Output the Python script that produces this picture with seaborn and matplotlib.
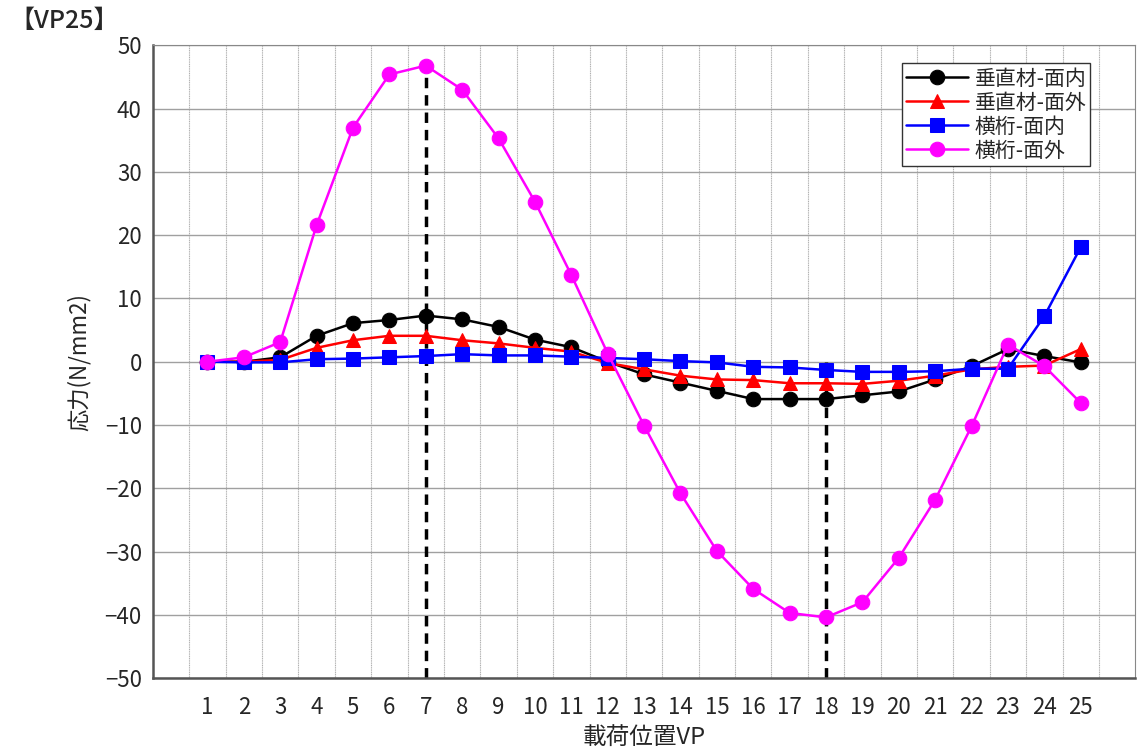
import numpy as np
import pandas as pd
import matplotlib
matplotlib.use("Agg")
import matplotlib.pyplot as plt
import seaborn as sns

# data
vp = list(range(1, 26))
v_in = [0, 0, 0.7, 4.1, 6.1, 6.6, 7.3, 6.7, 5.5, 3.5, 2.3, 0, -2.0, -3.3, -4.6, -5.9,
        -5.9, -5.9, -5.3, -4.7, -2.8, -0.7, 2.0, 0.9, -0.1]
v_out = [0, 0, 0.3, 2.2, 3.4, 4.1, 4.1, 3.4, 2.9, 2.2, 1.6, -0.2, -1.2, -2.2, -2.8, -2.9,
         -3.4, -3.4, -3.5, -3.0, -2.2, -1.2, -0.8, -0.6, 2.0]
g_in = [0, -0.1, -0.1, 0.4, 0.5, 0.7, 0.9, 1.2, 1.0, 1.0, 0.8, 0.6, 0.4, 0.1, -0.1,
        -0.8, -0.9, -1.3, -1.6, -1.6, -1.5, -1.1, -1.1, 7.2, 18.1]
g_out = [0, 0.7, 3.1, 21.6, 37.0, 45.4, 46.8, 43.0, 35.3, 25.3, 13.7, 1.3, -10.1, -20.8,
         -29.9, -35.9, -39.7, -40.4, -38.0, -31.0, -21.8, -10.2, 2.7, -0.7, -6.5]

names = ["垂直材-面内", "垂直材-面外", "横桁-面内", "横桁-面外"]
series = [v_in, v_out, g_in, g_out]
colors = ["#000000", "#ff0000", "#0000ff", "#ff00ff"]
markers = ["o", "^", "s", "o"]
msizes = [10.5, 9.5, 9.5, 10.5]

peak_vp = [7, 18]

sns.set_theme(style="white")
plt.rcParams["font.family"] = ["Liberation Sans Narrow", "Noto Sans CJK JP", "DejaVu Sans"]
plt.rcParams["axes.unicode_minus"] = True

fig = plt.figure(figsize=(11.41, 7.56), dpi=100)
ax = fig.add_axes([0.134, 0.103, 0.861, 0.837])

for name, vals, c, m, ms in zip(names, series, colors, markers, msizes):
    df = pd.DataFrame({"VP": vp, "stress": vals})
    sns.lineplot(data=df, x="VP", y="stress", color=c, marker=m, markersize=ms,
                 markeredgecolor=c, linewidth=1.8, label=name, ax=ax, zorder=3)

# dashed markers at the peak positions
ax.vlines(peak_vp[0], -50, g_out[peak_vp[0] - 1], colors="black", linestyles=(0, (3, 2)),
          linewidth=2.5, zorder=2)
ax.vlines(peak_vp[1], -50, 0, colors="black", linestyles=(0, (3, 2)),
          linewidth=2.5, zorder=2)

ax.set_xlim(-0.5, 26.5)
ax.set_ylim(-50, 50)
ax.set_xticks(vp)
ax.set_xticklabels([str(v) for v in vp], fontsize=16)
ax.set_yticks(np.arange(-50, 51, 10))
ax.tick_params(axis="y", labelsize=16, length=0, pad=8)
ax.tick_params(axis="x", length=0, pad=13)

# grid: vertical lines between positions, horizontal every 10
for xg in np.arange(0.5, 26, 1.0):
    ax.axvline(xg, color="#b0b0b0", linewidth=0.8, linestyle=(0, (1, 0.6)), zorder=0)
ax.yaxis.grid(True, color="#a0a0a0", linewidth=1.0, zorder=0)
ax.xaxis.grid(False)

for side in ["left", "bottom"]:
    ax.spines[side].set_color("#555555")
    ax.spines[side].set_linewidth(1.8)
for side in ["top", "right"]:
    ax.spines[side].set_color("#888888")
    ax.spines[side].set_linewidth(0.8)

ax.set_xlabel("載荷位置VP", fontsize=17, family=["Noto Sans CJK JP"], labelpad=5)
ax.set_ylabel("応力(N/mm2)", fontsize=16, family=["Noto Sans CJK JP"], labelpad=10)

leg = ax.legend(loc="upper right", bbox_to_anchor=(0.965, 0.988),
                frameon=True, fancybox=False, edgecolor="#333333", framealpha=1,
                borderpad=0.2, labelspacing=0.1, handlelength=3.0, handletextpad=0.3,
                prop={"family": ["Noto Sans CJK JP"], "size": 15})
leg.get_frame().set_linewidth(1.0)

fig.text(0.008, 0.972, "【VP25】", fontsize=18, fontweight="medium",
         family=["Noto Sans CJK JP"], va="center", ha="left")

fig.savefig("out.png", dpi=100)
